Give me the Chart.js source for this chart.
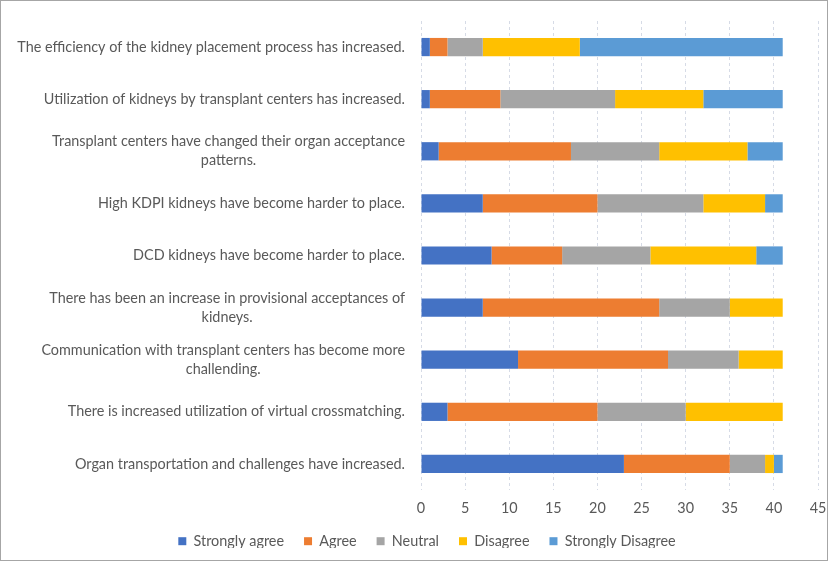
<!DOCTYPE html>
<html>
<head>
<meta charset="utf-8">
<script src="https://cdn.jsdelivr.net/npm/chart.js@4"></script>
<style>
  html, body { margin: 0; padding: 0; background: #fff; }
  #wrap { width: 828px; height: 561px; box-sizing: border-box; border: 1px solid #a6a6a6; position: relative; }
  canvas { display: block; }
</style>
</head>
<body>
<div id="wrap"><canvas id="surveyChart" width="826" height="559"></canvas></div>
<script>
// 各設問（上から順）
const statements = [
    ['The efficiency of the kidney placement process has increased.'],
    ['Utilization of kidneys by transplant centers has increased.'],
    ['Transplant centers have changed their organ acceptance', 'patterns.'],
    ['High KDPI kidneys have become harder to place.'],
    ['DCD kidneys have become harder to place.'],
    ['There has been an increase in provisional acceptances of', 'kidneys.'],
    ['Communication with transplant centers has become more', 'challending.'],
    ['There is increased utilization of virtual crossmatching.'],
    ['Organ transportation and challenges have increased.']
];

// 回答数
const stronglyAgree    = [1, 1, 2, 7, 8, 7, 11, 3, 23];
const agree            = [2, 8, 15, 13, 8, 20, 17, 17, 12];
const neutral          = [4, 13, 10, 12, 10, 8, 8, 10, 4];
const disagree         = [11, 10, 10, 7, 12, 6, 5, 11, 1];
const stronglyDisagree = [23, 9, 4, 2, 3, 0, 0, 0, 1];

const xTicks = [0, 5, 10, 15, 20, 25, 30, 35, 40, 45];

const textColor = '#595959';
const fontFamily = 'Lato, "Open Sans", sans-serif';
const fontSize = 14.4;

// y軸ラベルを Excel 風に描画（ブロックは右寄せ、複数行は中央揃え）
const statementLabels = {
    id: 'statementLabels',
    afterInit(chart) {
        // 凡例の高さを詰める
        const origFit = chart.legend.fit;
        chart.legend.fit = function () {
            origFit.call(this);
            this.height = 34;
        };
    },
    afterDraw(chart) {
        const c = chart.ctx;
        const yScale = chart.scales.y;
        const right = chart.scales.x.left - 16;
        c.save();
        c.font = fontSize + 'px ' + fontFamily;
        c.fillStyle = textColor;
        c.textAlign = 'center';
        c.textBaseline = 'middle';
        statements.forEach((lines, i) => {
            const yc = yScale.getPixelForValue(i);
            const widest = Math.max(...lines.map(l => c.measureText(l).width));
            const xc = right - widest / 2;
            const lh = 19;
            lines.forEach((line, j) => {
                c.fillText(line, xc, yc + (j - (lines.length - 1) / 2) * lh);
            });
        });
        c.restore();
    }
};

Chart.defaults.font.family = fontFamily;
Chart.defaults.font.size = fontSize;
Chart.defaults.color = textColor;

const ctx = document.getElementById('surveyChart').getContext('2d');
new Chart(ctx, {
    type: 'bar',
    data: {
        labels: statements.map(s => s.join(' ')),
        datasets: [
            { label: 'Strongly agree', data: stronglyAgree, backgroundColor: '#4472C4' },
            { label: 'Agree', data: agree, backgroundColor: '#ED7D31' },
            { label: 'Neutral', data: neutral, backgroundColor: '#A5A5A5' },
            { label: 'Disagree', data: disagree, backgroundColor: '#FFC000' },
            { label: 'Strongly Disagree', data: stronglyDisagree, backgroundColor: '#5B9BD5' }
        ]
    },
    options: {
        indexAxis: 'y',
        responsive: false,
        animation: false,
        barPercentage: 0.35,
        categoryPercentage: 1,
        layout: { padding: { top: 20, right: 0, left: 26, bottom: 12 } },
        plugins: {
            legend: {
                position: 'bottom',
                labels: { boxWidth: 8, boxHeight: 8, padding: 20, color: textColor }
            },
            tooltip: { enabled: false }
        },
        scales: {
            x: {
                stacked: true,
                min: 0,
                max: 45,
                afterBuildTicks: s => { s.ticks = xTicks.map(v => ({ value: v })); },
                afterFit: s => { s.height = 24; s.paddingRight = 9; },
                grid: { color: '#d6dbe6', borderDash: [3, 3], drawTicks: false },
                border: { display: false, dash: [3, 3] },
                ticks: { padding: 10 }
            },
            y: {
                stacked: true,
                grid: { display: false },
                border: { display: false },
                ticks: { display: false },
                afterFit: s => { s.width = 394; }
            }
        }
    },
    plugins: [statementLabels]
});
</script>
</body>
</html>
